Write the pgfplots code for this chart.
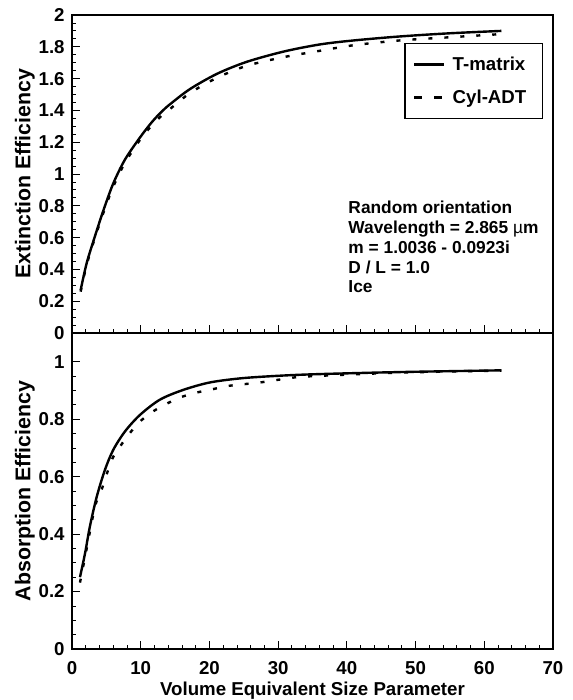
\documentclass[border=0pt]{standalone}
\usepackage{pgfplots}
\pgfplotsset{compat=1.18}
\usepackage{pgfplotstable}
\usepackage{fontspec}
\setmainfont{Liberation Sans}

\pgfplotstableread{
x y
1.26 0.27
2.14 0.44
3.35 0.61
4.56 0.77
6.0 0.94
7.7 1.09
9.9 1.23
11.6 1.325
13.0 1.39
14.3 1.44
17.2 1.535
21.1 1.63
25.4 1.705
30.8 1.77
36.1 1.815
41 1.84
47.7 1.865
55 1.885
62.5 1.90
}\extT
\pgfplotstableread{
x y
1.26 0.26
2.14 0.43
3.35 0.60
4.56 0.755
6.0 0.92
7.7 1.07
9.9 1.215
11.6 1.305
13.0 1.365
14.3 1.41
17.2 1.51
21.1 1.605
25.4 1.68
30.8 1.735
36.1 1.775
41 1.81
47.7 1.84
55 1.86
62.5 1.88
}\extC
\pgfplotstableread{
x y
1.16 0.25
1.9 0.333
2.6 0.426
3.6 0.53
4.8 0.624
6.0 0.693
7.7 0.757
9.9 0.815
12.8 0.868
16.2 0.902
20.1 0.928
24.9 0.943
30.8 0.952
36.1 0.957
47.7 0.964
62.5 0.970
}\absT
\pgfplotstableread{
x y
1.16 0.231
2.1 0.345
3.35 0.496
4.3 0.554
5.8 0.659
7.0 0.705
8.4 0.751
9.9 0.792
11.8 0.827
13.8 0.854
15.9 0.877
18.2 0.893
20.6 0.905
22.8 0.916
27.4 0.928
31.7 0.943
34.4 0.949
47.7 0.962
62.5 0.969
}\absC

\pgfplotsset{
  common/.style={
    scale only axis,
    width=360.75pt,
    xmin=0, xmax=70,
    xtick={0,10,...,70},
    minor x tick num=4,
    minor y tick num=3,
    xtick pos=bottom, ytick pos=left,
    tick align=inside,
    major tick length=6pt,
    minor tick length=3pt,
    every tick/.style={black, line width=0.6pt},
    axis line style={line width=1.2pt},
    /pgf/number format/assume math mode=true,
    ticklabel style={font=\bfseries\fontsize{14}{16}\selectfont},
    yticklabel style={xshift=-2pt},
    xticklabel style={yshift=-6pt},
    every axis y label/.style={at={(axis description cs:-0.098,0.5)}, rotate=90, anchor=center,
      font=\bfseries\fontsize{16}{18}\selectfont},
  },
  tm/.style={black, line width=1.8pt, smooth},
  ca/.style={black, line width=1.8pt, smooth, dash pattern=on 3pt off 9pt},
}

\begin{document}
\begin{tikzpicture}
\useasboundingbox (-54pt,-38.25pt) rectangle (375.75pt,486.75pt);
\begin{axis}[common,
  at={(0,237pt)}, anchor=south west,
  height=238.5pt,
  ymin=0, ymax=2,
  ytick={0,0.2,...,2},
  xticklabels={},
  ylabel={Extinction Efficiency},
  legend cell align=left,
  legend style={at={(0.979,0.912)}, anchor=north east, draw=black, line width=0.8pt,
    font=\bfseries\fontsize{14}{16}\selectfont, row sep=9pt, inner xsep=6pt, inner ysep=8pt,
    nodes={inner xsep=6pt}},
  legend image code/.code={\draw[#1] (0pt,0pt) -- (22pt,0pt);},
]
\addplot[tm] table {\extT};
\addlegendentry{T-matrix}
\addplot[ca, legend image code/.code={\draw[black, line width=1.8pt, dash pattern=on 6pt off 9pt] (0pt,0pt) -- (21pt,0pt);}] table {\extC};
\addlegendentry{Cyl-ADT}
\node[anchor=north west, align=left, inner sep=0pt, font=\bfseries\fontsize{13}{14.8}\selectfont]
  at (axis cs:40.2,0.83) {Random orientation\\Wavelength = 2.865 {\mdseries µ}m\\m = 1.0036 - 0.0923i\\D / L = 1.0\\Ice};
\end{axis}
\begin{axis}[common,
  at={(0,0)}, anchor=south west,
  height=237pt,
  ymin=0, ymax=1.1,
  ytick={0,0.2,...,1},
  xlabel={Volume Equivalent Size Parameter},
  xlabel style={at={(axis description cs:0.5,-0.132)}, anchor=center, font=\bfseries\fontsize{14}{16}\selectfont},
  ylabel={Absorption Efficiency},
]
\addplot[tm] table {\absT};
\addplot[ca] table {\absC};
\end{axis}
\draw[line width=2pt] (0,237pt) -- (360.75pt,237pt);
\end{tikzpicture}
\end{document}
